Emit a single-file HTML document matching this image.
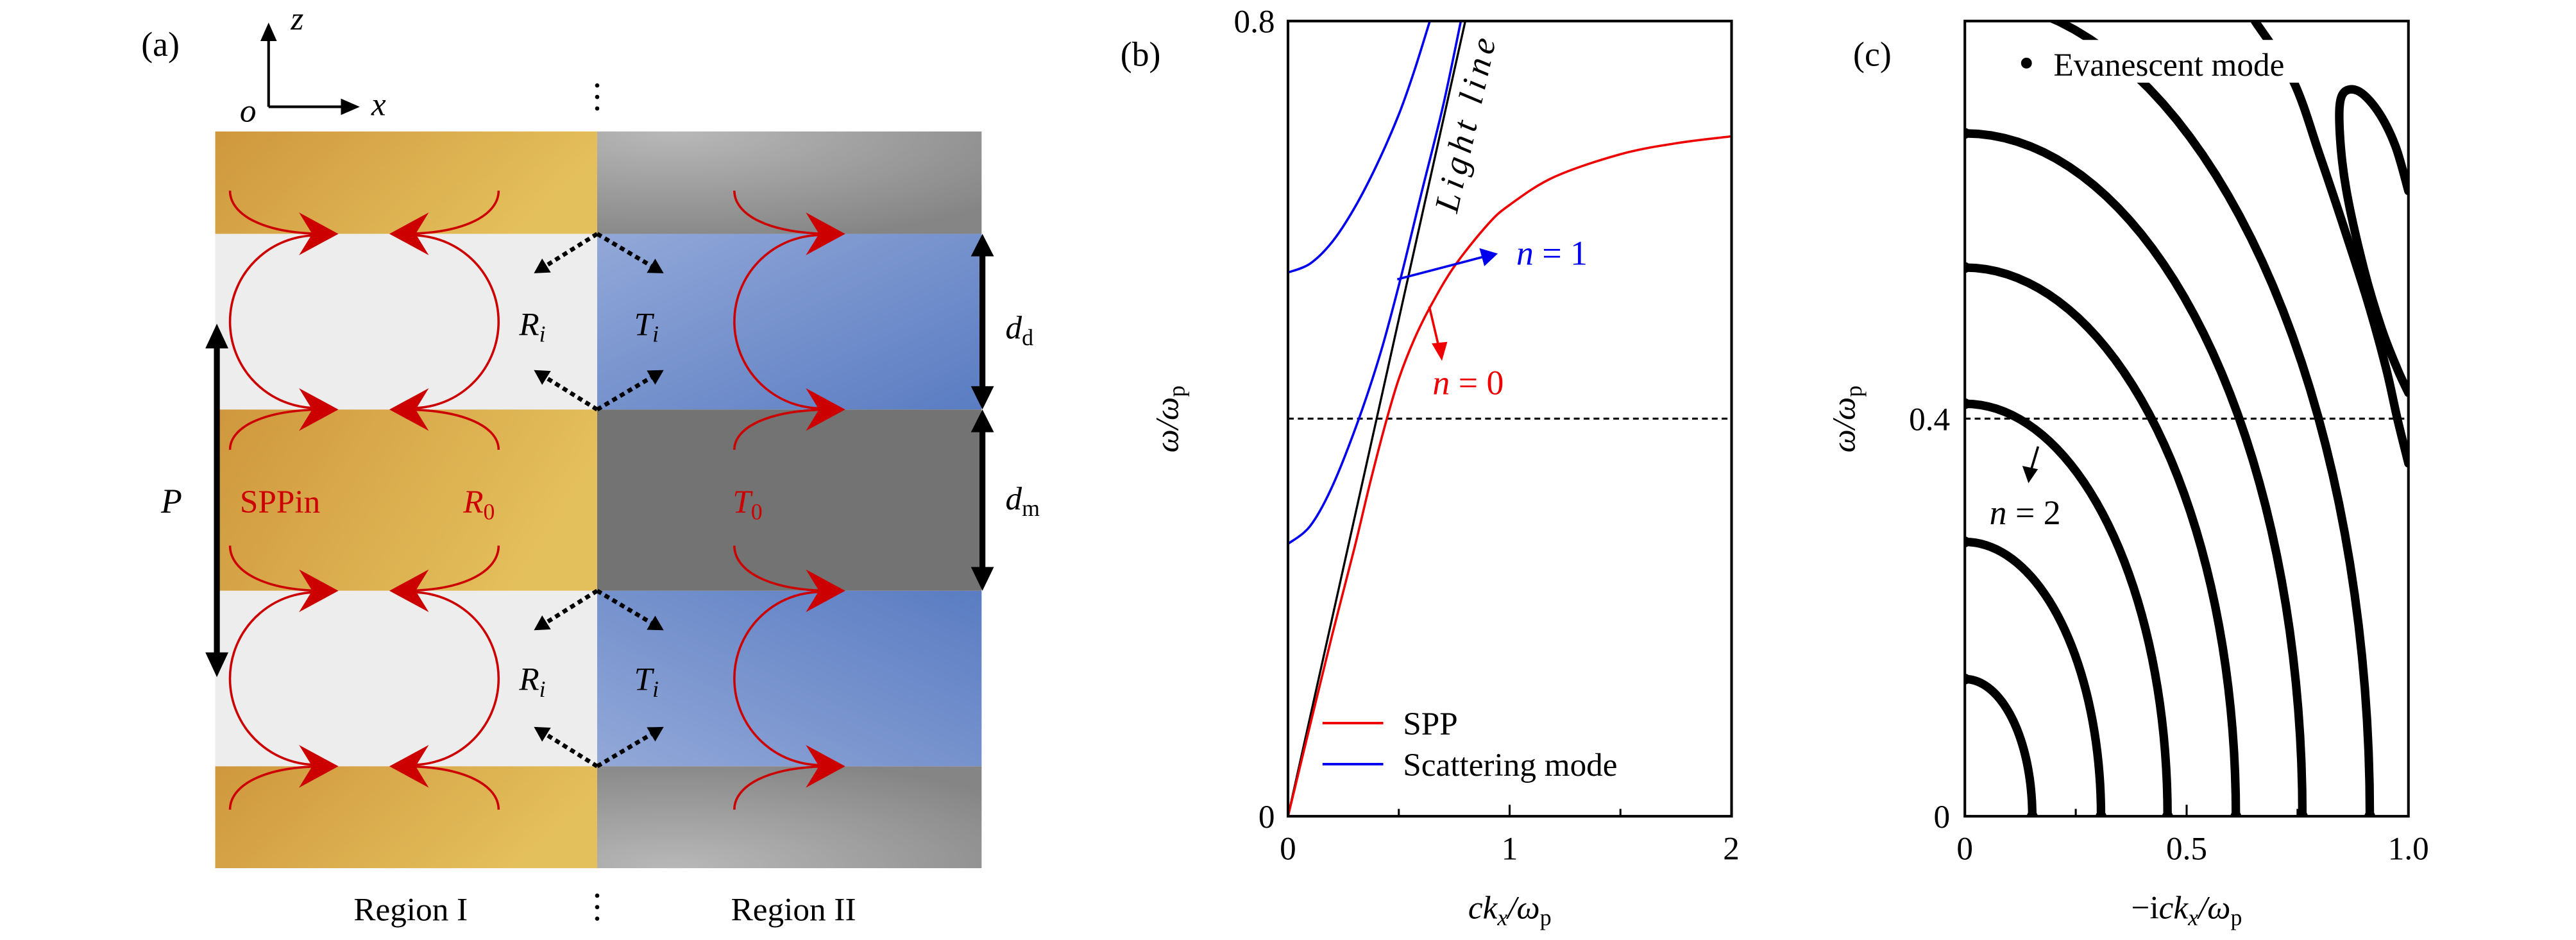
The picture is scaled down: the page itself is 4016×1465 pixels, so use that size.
<!DOCTYPE html>
<html><head><meta charset="utf-8">
<style>
html,body{margin:0;padding:0;background:#fff;}
svg{display:block;font-family:"Liberation Serif","DejaVu Serif",serif;}
svg text{font-family:"Liberation Serif","DejaVu Serif",serif !important;}
.it{font-style:italic;}
</style></head>
<body>
<svg id="fig" xmlns="http://www.w3.org/2000/svg" width="4016" height="1465" viewBox="0 0 1568 572" preserveAspectRatio="none" font-family="Liberation Serif, serif">
<defs>
<linearGradient id="gold" x1="0" y1="0" x2="1" y2="0.3"><stop offset="0" stop-color="#cf973d"/><stop offset="1" stop-color="#e4c05c"/></linearGradient>
<radialGradient id="grayTop" cx="0.2" cy="0" r="1.1"><stop offset="0" stop-color="#b8b8b8"/><stop offset="1" stop-color="#858585"/></radialGradient>
<radialGradient id="grayBot" cx="0.2" cy="1" r="1.1"><stop offset="0" stop-color="#b8b8b8"/><stop offset="1" stop-color="#858585"/></radialGradient>
<linearGradient id="blue1" x1="0" y1="0" x2="1" y2="1"><stop offset="0" stop-color="#92a8d8"/><stop offset="1" stop-color="#5a7cc2"/></linearGradient>
<linearGradient id="blue2" x1="0" y1="1" x2="1" y2="0"><stop offset="0" stop-color="#92a8d8"/><stop offset="1" stop-color="#5a7cc2"/></linearGradient>
<clipPath id="clipC"><rect x="1196" y="12.8" width="270" height="483.9"/></clipPath>
<clipPath id="clipB"><rect x="784" y="12.8" width="270" height="483.9"/></clipPath>
</defs>

<!-- Panel (a) -->
<g id="panel-a">
<text x="86" y="34" font-size="21">(a)</text>
<g>
<line x1="163.5" y1="65" x2="163.5" y2="24" stroke="#000" stroke-width="1.6"/>
<polygon points="163.5,13.7 158.5,25 168.5,25" fill="#000"/>
<line x1="163.5" y1="65" x2="208" y2="65" stroke="#000" stroke-width="1.6"/>
<polygon points="219,65 207.5,60 207.5,70" fill="#000"/>
<text x="146" y="74" font-size="20" class="it">o</text>
<text x="177" y="18" font-size="20" class="it">z</text>
<text x="226" y="70" font-size="20" class="it">x</text>
</g>
<g fill="#000">
<circle cx="363.5" cy="52" r="1.3"/><circle cx="363.5" cy="59" r="1.3"/><circle cx="363.5" cy="66" r="1.3"/>
<circle cx="363.5" cy="545" r="1.3"/><circle cx="363.5" cy="552" r="1.3"/><circle cx="363.5" cy="559" r="1.3"/>
</g>
<g>
<rect x="131" y="80" width="232.5" height="62.3" fill="url(#gold)"/>
<rect x="131" y="142.3" width="232.5" height="106.9" fill="#ededed"/>
<rect x="131" y="249.2" width="232.5" height="110.3" fill="url(#gold)"/>
<rect x="131" y="359.5" width="232.5" height="106.8" fill="#ededed"/>
<rect x="131" y="466.3" width="232.5" height="62" fill="url(#gold)"/>
<rect x="363.5" y="80" width="234" height="62.3" fill="url(#grayTop)"/>
<rect x="363.5" y="142.3" width="234" height="106.9" fill="url(#blue1)"/>
<rect x="363.5" y="249.2" width="234" height="110.3" fill="#737373"/>
<rect x="363.5" y="359.5" width="234" height="106.8" fill="url(#blue2)"/>
<rect x="363.5" y="466.3" width="234" height="62" fill="url(#grayBot)"/>
</g>
<g id="red-arrows" fill="none" stroke="#cc0000" stroke-width="1.4"></g>
<g id="dot-arrows"></g>
<g fill="#000">
<line x1="598" y1="152" x2="598" y2="240" stroke="#000" stroke-width="3.6"/>
<polygon points="598,142.3 591,156 605,156"/><polygon points="598,249.2 591,235 605,235"/>
<line x1="598" y1="259" x2="598" y2="350" stroke="#000" stroke-width="3.6"/>
<polygon points="598,249.2 591,263 605,263"/><polygon points="598,359.5 591,345 605,345"/>
<line x1="132" y1="207" x2="132" y2="402" stroke="#000" stroke-width="3.6"/>
<polygon points="132,197 125,212 139,212"/><polygon points="132,412 125,397 139,397"/>
</g>
<text x="612" y="206" font-size="20" class="it">d<tspan font-style="normal" font-size="14" dy="4">d</tspan></text>
<text x="612" y="310" font-size="20" class="it">d<tspan font-style="normal" font-size="14" dy="4">m</tspan></text>
<text x="98" y="312" font-size="21" class="it">P</text>
<text x="146" y="312" font-size="20" fill="#cc0000">SPPin</text>
<text x="282" y="312" font-size="20" fill="#cc0000" class="it">R<tspan font-style="normal" font-size="14" dy="4">0</tspan></text>
<text x="446" y="312" font-size="20" fill="#cc0000" class="it">T<tspan font-style="normal" font-size="14" dy="4">0</tspan></text>
<text x="316" y="204" font-size="20" class="it">R<tspan font-size="14" dy="4">i</tspan></text>
<text x="386" y="204" font-size="20" class="it">T<tspan font-size="14" dy="4">i</tspan></text>
<text x="316" y="420" font-size="20" class="it">R<tspan font-size="14" dy="4">i</tspan></text>
<text x="386" y="420" font-size="20" class="it">T<tspan font-size="14" dy="4">i</tspan></text>
<text x="250" y="560" font-size="20" text-anchor="middle">Region I</text>
<text x="483" y="560" font-size="20" text-anchor="middle">Region II</text>
</g>

<!-- Panel (b) -->
<g id="panel-b">
<text x="682" y="40" font-size="21">(b)</text>
<g id="b-series" clip-path="url(#clipB)"></g>
<g id="b-axes"></g>
<text transform="translate(717,255) rotate(-90)" font-size="20" text-anchor="middle" class="it">ω/ω<tspan font-style="normal" font-size="14" dy="4">p</tspan></text>
<text x="919" y="559" font-size="20" text-anchor="middle" class="it">ck<tspan font-size="14" dy="4">x</tspan><tspan dy="-4">/ω</tspan><tspan font-style="normal" font-size="14" dy="4">p</tspan></text>
<text transform="translate(899,76) rotate(-77.4)" font-size="21" text-anchor="middle" class="it" letter-spacing="3">Light line</text>
<g>
<line x1="850.5" y1="170" x2="904" y2="156" stroke="#0000ee" stroke-width="1.4"/>
<polygon points="911.7,154.3 900.5,151 903.5,162" fill="#0000ee"/>
<text x="923" y="161" font-size="21" fill="#0000ee"><tspan class="it">n</tspan> = 1</text>
</g>
<g>
<line x1="870" y1="186.5" x2="876" y2="212" stroke="#ee0000" stroke-width="1.4"/>
<polygon points="877.7,219.6 871.5,209 881,208" fill="#ee0000"/>
<text x="872" y="240" font-size="21" fill="#ee0000"><tspan class="it">n</tspan> = 0</text>
</g>
<g>
<line x1="805" y1="440" x2="842" y2="440" stroke="#ee0000" stroke-width="1.5"/>
<text x="854" y="447" font-size="20">SPP</text>
<line x1="805" y1="465" x2="842" y2="465" stroke="#0000ee" stroke-width="1.5"/>
<text x="854" y="472" font-size="20">Scattering mode</text>
</g>
</g>

<!-- Panel (c) -->
<g id="panel-c">
<text x="1128" y="40" font-size="21">(c)</text>
<g id="c-series" clip-path="url(#clipC)"></g>
<rect x="1222" y="24.3" width="242" height="26" fill="#fff"/>
<g>
<circle cx="1233.5" cy="38.4" r="3.3" fill="#000"/>
<text x="1250" y="46" font-size="20">Evanescent mode</text>
</g>
<g id="c-axes"></g>
<text transform="translate(1129,255) rotate(-90)" font-size="20" text-anchor="middle" class="it">ω/ω<tspan font-style="normal" font-size="14" dy="4">p</tspan></text>
<text x="1331" y="559" font-size="20" text-anchor="middle">−i<tspan class="it">ck</tspan><tspan class="it" font-size="14" dy="4">x</tspan><tspan class="it" dy="-4">/ω</tspan><tspan font-size="14" dy="4">p</tspan></text>
<g>
<line x1="1240.6" y1="271.7" x2="1236" y2="287" stroke="#000" stroke-width="1.4"/>
<polygon points="1234.7,294 1231,283.5 1240.5,285.5" fill="#000"/>
<text x="1211" y="319" font-size="21"><tspan class="it">n</tspan> = 2</text>
</g>
</g>
</svg>
<script>
// ---------- Panel (b) data ----------
const bXTicks = [0, 1, 2];
const bXMinor = [0.5, 1.5];
const bYTicks = [0, 0.8];
const bDashedLevel = 0.4;
const sppK = [0, 0.1, 0.2, 0.3, 0.37, 0.44, 0.5, 0.57, 0.643, 0.75, 0.9, 1.0, 1.2, 1.5, 1.75, 2.0];
const sppW = [0, 0.092, 0.183, 0.27, 0.335, 0.395, 0.44, 0.48, 0.513, 0.553, 0.595, 0.615, 0.643, 0.666, 0.677, 0.684];
const scat1K = [0, 0.1, 0.2, 0.32, 0.42, 0.508, 0.6, 0.7, 0.78];
const scat1W = [0.274, 0.292, 0.332, 0.4, 0.468, 0.541, 0.625, 0.715, 0.8];
const scat2K = [0, 0.1, 0.2, 0.3, 0.4, 0.5, 0.57, 0.64];
const scat2W = [0.547, 0.556, 0.578, 0.612, 0.655, 0.706, 0.75, 0.8];
const lightK = [0, 0.8];
const lightW = [0, 0.8];
// ---------- Panel (c) data ----------
const cXTicks = [0, 0.5, 1.0];
const cXTickLabels = ["0", "0.5", "1.0"];
const cXMinor = [0.25, 0.75];
const cYTicks = [0, 0.4];
const modeTopW = [0.138, 0.276, 0.415, 0.552, 0.687, 0.822];
const modeEndK = [0.152, 0.307, 0.457, 0.611, 0.761, 0.913];
const branchK = [0.654, 0.74, 0.8, 0.86, 0.91, 0.95, 0.975, 1.0];
const branchW = [0.8, 0.74, 0.665, 0.585, 0.515, 0.45, 0.4, 0.355];
const loopK = [1.0, 0.97, 0.93, 0.885, 0.85, 0.845, 0.86, 0.9, 0.94, 0.975, 1.0];
const loopW = [0.629, 0.675, 0.71, 0.73, 0.725, 0.69, 0.63, 0.55, 0.49, 0.45, 0.426];

const NS = "http://www.w3.org/2000/svg";
const Y0 = 496.7, YTOP = 12.8;
function yW(w){ return Y0 - w * (Y0 - YTOP) / 0.8; }
function xB(k){ return 784 + k * 134.9; }
function xC(k){ return 1196 + k * 270; }
function mk(tag, attrs, parent){
  const e = document.createElementNS(NS, tag);
  for (const a in attrs) e.setAttribute(a, attrs[a]);
  parent.appendChild(e); return e;
}
function smoothPath(xs, ys){
  let d = "M" + xs[0].toFixed(2) + "," + ys[0].toFixed(2);
  for (let i = 0; i < xs.length - 1; i++){
    const x0 = xs[i-1] ?? xs[i], y0 = ys[i-1] ?? ys[i];
    const x3 = xs[i+2] ?? xs[i+1], y3 = ys[i+2] ?? ys[i+1];
    const c1x = xs[i] + (xs[i+1]-x0)/6, c1y = ys[i] + (ys[i+1]-y0)/6;
    const c2x = xs[i+1] - (x3-xs[i])/6, c2y = ys[i+1] - (y3-ys[i])/6;
    d += " C" + c1x.toFixed(2)+","+c1y.toFixed(2)+" "+c2x.toFixed(2)+","+c2y.toFixed(2)+" "+xs[i+1].toFixed(2)+","+ys[i+1].toFixed(2);
  }
  return d;
}
function frame(g, x0, x1, name){
  const r = mk("rect", {x:x0, y:YTOP, width:x1-x0, height:Y0-YTOP, fill:"none", stroke:"#000", "stroke-width":1.6}, g);
  
  
}

// ----- Panel b -----
const bs = document.getElementById("b-series");
const ba = document.getElementById("b-axes");
const dashB = mk("line", {x1:xB(0), x2:xB(2), y1:yW(bDashedLevel), y2:yW(bDashedLevel), stroke:"#000", "stroke-width":1.2, "stroke-dasharray":"3.5 2.5"}, bs);


const ll = mk("line", {x1:xB(lightK[0]), y1:yW(lightW[0]), x2:xB(lightK[1]), y2:yW(lightW[1]), stroke:"#000", "stroke-width":1.3}, bs);


const s1 = mk("path", {d:smoothPath(scat1K.map(xB), scat1W.map(yW)), fill:"none", stroke:"#0000ee", "stroke-width":1.4}, bs);


const s2 = mk("path", {d:smoothPath(scat2K.map(xB), scat2W.map(yW)), fill:"none", stroke:"#0000ee", "stroke-width":1.4}, bs);


const sp = mk("path", {d:smoothPath(sppK.map(xB), sppW.map(yW)), fill:"none", stroke:"#ee0000", "stroke-width":1.4}, bs);


frame(ba, 784, 1054, 'b-plot-frame');
bXTicks.forEach(v => {
  const t = mk("line", {x1:xB(v), x2:xB(v), y1:Y0, y2:Y0-7, stroke:"#000", "stroke-width":1.2}, ba);
  
  
  const l = mk("text", {x:xB(v), y:523, "font-size":20, "text-anchor":"middle"}, ba);
  l.textContent = String(v);
  
  
});
bXMinor.forEach(v => {
  const t = mk("line", {x1:xB(v), x2:xB(v), y1:Y0, y2:Y0-4.5, stroke:"#000", "stroke-width":1.2}, ba);
  
  
});
bYTicks.forEach(v => {
  const l = mk("text", {x:776, y:yW(v)+7, "font-size":20, "text-anchor":"end"}, ba);
  l.textContent = String(v);
  
  
});

// ----- Panel c -----
const cs = document.getElementById("c-series");
const ca = document.getElementById("c-axes");
const dashC = mk("line", {x1:xC(0), x2:xC(1), y1:yW(0.4), y2:yW(0.4), stroke:"#000", "stroke-width":1.2, "stroke-dasharray":"3.5 2.5"}, cs);


modeTopW.forEach((w0, i) => {
  const k0 = modeEndK[i];
  const xs = [], ys = [];
  for (let j = 0; j <= 40; j++){
    const t = j/40 * Math.PI/2;
    xs.push(xC(k0*Math.sin(t))); ys.push(yW(w0*Math.cos(t)));
  }
  const p = mk("path", {d:"M"+xs.map((x,j)=>x.toFixed(2)+","+ys[j].toFixed(2)).join(" L"), fill:"none", stroke:"#000", "stroke-width":5.2, "stroke-linecap":"round"}, cs);
  
  
  const d1 = mk("circle", {cx:xC(0), cy:yW(w0), r:3.3, fill:"#000"}, cs);
  
  
  const d2 = mk("circle", {cx:xC(k0), cy:yW(0), r:3.3, fill:"#000"}, cs);
  
  
});
const br = mk("path", {d:smoothPath(branchK.map(xC), branchW.map(yW)), fill:"none", stroke:"#000", "stroke-width":5.2, "stroke-linecap":"round"}, cs);


const lp = mk("path", {d:smoothPath(loopK.map(xC), loopW.map(yW)), fill:"none", stroke:"#000", "stroke-width":5.2, "stroke-linecap":"round"}, cs);


frame(ca, 1196, 1466, 'c-plot-frame');
cXTicks.forEach((v, i) => {
  const t = mk("line", {x1:xC(v), x2:xC(v), y1:Y0, y2:Y0-7, stroke:"#000", "stroke-width":1.2}, ca);
  
  
  const l = mk("text", {x:xC(v), y:523, "font-size":20, "text-anchor":"middle"}, ca);
  l.textContent = cXTickLabels[i];
  
  
});
cXMinor.forEach(v => {
  const t = mk("line", {x1:xC(v), x2:xC(v), y1:Y0, y2:Y0-4.5, stroke:"#000", "stroke-width":1.2}, ca);
  
  
});
cYTicks.forEach(v => {
  const l = mk("text", {x:1187, y:yW(v)+7, "font-size":20, "text-anchor":"end"}, ca);
  l.textContent = String(v);
  
  
});

// ----- Panel a arrows -----
const ra = document.getElementById("red-arrows");
function head(g, x, y, dir){ // dir 1 right, -1 left
  const p = mk("polygon", {points:[x+","+y, (x-dir*24)+","+(y-13), (x-dir*16)+","+y, (x-dir*24)+","+(y+13)].join(" "), fill:"#cc0000", stroke:"none"}, g);
  
  
}
function circleArc(g, tipX, bulgeX, yTop, yBot){
  const endX = tipX - (bulgeX < tipX ? 6 : -6);
  const y1 = yTop + 1.5, y2 = yBot - 1.5;
  const half = (y2 - y1) / 2, s = Math.abs(endX - bulgeX);
  const r = (half*half + s*s) / (2*s);
  const sweep = bulgeX < tipX ? 0 : 1;
  const large = s > r ? 1 : 0;
  const a = mk("path", {d:`M${endX},${y1} A${r.toFixed(2)},${r.toFixed(2)} 0 ${large} ${sweep} ${endX},${y2}`}, g);
  
  
}
function metalArc(g, tipX, startX, yBound, yStart){
  const endX = tipX + (startX < tipX ? -8 : 8);
  const a = mk("path", {d:`M${startX},${yStart} C${startX},${yStart + (yBound-yStart)*0.55} ${startX+(tipX-startX)*0.3},${yBound} ${endX},${yBound}`}, g);
  
  
}
const bounds = [[142.3,249.2],[359.5,466.3]];
const metalY = [[116,273.7],[332,492.7]];
bounds.forEach((b, i) => {
  const ms = metalY[i];
  circleArc(ra, 206, 140, b[0], b[1]);
  metalArc(ra, 206, 140, b[0], ms[0]); metalArc(ra, 206, 140, b[1], ms[1]);
  head(ra, 206, b[0], 1); head(ra, 206, b[1], 1);
  circleArc(ra, 237, 303.5, b[0], b[1]);
  metalArc(ra, 237, 303.5, b[0], ms[0]); metalArc(ra, 237, 303.5, b[1], ms[1]);
  head(ra, 237, b[0], -1); head(ra, 237, b[1], -1);
  circleArc(ra, 514.5, 447, b[0], b[1]);
  metalArc(ra, 514.5, 447, b[0], ms[0]); metalArc(ra, 514.5, 447, b[1], ms[1]);
  head(ra, 514.5, b[0], 1); head(ra, 514.5, b[1], 1);
});
const da = document.getElementById("dot-arrows");
function dotArrow(x0, y0, x1, y1){
  const dx = x1-x0, dy = y1-y0, L = Math.hypot(dx, dy), ux = dx/L, uy = dy/L;
  const bx = x1 - ux*9, by = y1 - uy*9;
  const l = mk("line", {x1:x0, y1:y0, x2:bx, y2:by, stroke:"#000", "stroke-width":2.6, "stroke-dasharray":"3 2.4"}, da);
  
  
  const p = mk("polygon", {points:`${x1},${y1} ${bx-uy*5},${by+ux*5} ${bx+uy*5},${by-ux*5}`, fill:"#000"}, da);
  
  
}
[[142.3,1],[249.2,-1],[359.5,1],[466.3,-1]].forEach(([y, s]) => {
  dotArrow(363.5, y, 325, y + s*24);
  dotArrow(363.5, y, 404, y + s*24);
});
</script>
</body></html>
